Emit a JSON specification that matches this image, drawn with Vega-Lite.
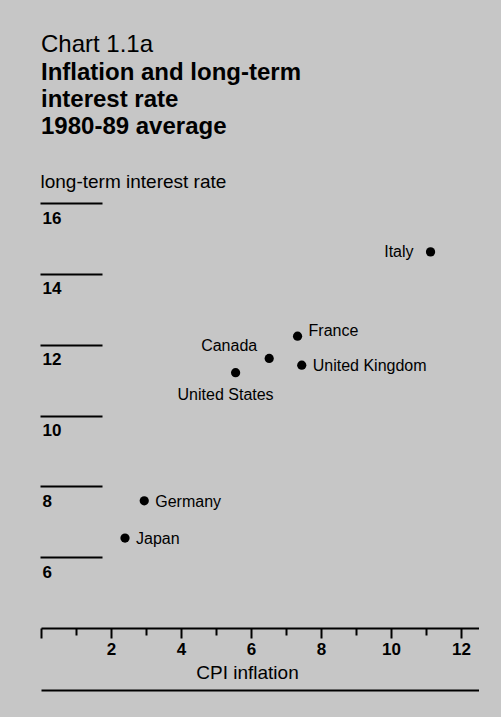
{
  "$schema": "https://vega.github.io/schema/vega-lite/v6.json",
  "width": 437.5,
  "height": 425,
  "autosize": {"type": "none"},
  "padding": {"left": 41, "top": 203, "right": 22.5, "bottom": 89},
  "background": "#c6c6c6",
  "title": {
    "text": "Chart 1.1a",
    "subtitle": ["Inflation and long-term", "interest rate", "1980-89 average"],
    "anchor": "start",
    "frame": "group",
    "font": "Liberation Sans",
    "fontSize": 24,
    "fontWeight": "normal",
    "color": "black",
    "subtitleFont": "Liberation Sans",
    "subtitleFontSize": 24,
    "subtitleFontWeight": "bold",
    "subtitleColor": "black",
    "subtitleLineHeight": 27,
    "subtitlePadding": 4,
    "offset": 33
  },
  "data": {
    "values": [
      {"country": "Italy", "cpi": 11.13, "rate": 14.62},
      {"country": "France", "cpi": 7.33, "rate": 12.24},
      {"country": "Canada", "cpi": 6.52, "rate": 11.61},
      {"country": "United Kingdom", "cpi": 7.45, "rate": 11.42},
      {"country": "United States", "cpi": 5.56, "rate": 11.21},
      {"country": "Germany", "cpi": 2.95, "rate": 7.59},
      {"country": "Japan", "cpi": 2.40, "rate": 6.54}
    ]
  },
  "resolve": {"axis": {"x": "independent", "y": "independent"}},
  "layer": [
    {
      "mark": {"type": "point", "filled": true, "size": 85, "color": "black", "opacity": 1},
      "encoding": {
        "x": {
          "field": "cpi", "type": "quantitative",
          "scale": {"domain": [0, 12.5], "nice": false, "zero": false},
          "axis": {
            "orient": "bottom",
            "values": [0, 1, 2, 3, 4, 5, 6, 7, 8, 9, 10, 11, 12],
            "domain": true, "domainColor": "black", "domainWidth": 2,
            "ticks": true, "tickColor": "black", "tickWidth": 2,
            "tickSize": {"condition": {"test": "datum.value % 2 == 1", "value": 7}, "value": 10},
            "grid": false,
            "labelExpr": "datum.value % 2 == 0 && datum.value > 0 ? datum.label : ''",
            "labelFont": "Liberation Sans", "labelFontSize": 17, "labelFontWeight": "bold",
            "labelColor": "black", "labelPadding": 3, "labelFlush": false, "labelOverlap": false,
            "title": "CPI inflation",
            "titleFont": "Liberation Sans", "titleFontSize": 19, "titleFontWeight": "normal",
            "titleColor": "black", "titleX": 206, "titleY": 50, "titleAlign": "center", "titleBaseline": "alphabetic"
          }
        },
        "y": {
          "field": "rate", "type": "quantitative",
          "scale": {"domain": [4, 16], "nice": false, "zero": false},
          "axis": {
            "orient": "left",
            "values": [6, 8, 10, 12, 14, 16],
            "offset": -61,
            "domain": false,
            "ticks": true, "tickColor": "black", "tickWidth": 2, "tickSize": 62,
            "grid": false,
            "labelFont": "Liberation Sans", "labelFontSize": 17, "labelFontWeight": "bold",
            "labelColor": "black", "labelAlign": "left", "labelBaseline": "top",
            "labelPadding": -2, "labelOffset": 7, "labelFlush": false, "labelOverlap": false, "labelBound": false,
            "title": "long-term interest rate",
            "titleFont": "Liberation Sans", "titleFontSize": 19, "titleFontWeight": "normal",
            "titleColor": "black", "titleAngle": 0, "titleAlign": "left", "titleBaseline": "alphabetic",
            "titleX": -62, "titleY": -16
          }
        }
      }
    },
    {
      "transform": [{"filter": "datum.country == 'Italy'"}],
      "mark": {"type": "text", "align": "right", "baseline": "middle", "dx": -17, "dy": 0, "font": "Liberation Sans", "fontSize": 16, "color": "black"},
      "encoding": {
        "x": {
          "field": "cpi", "type": "quantitative",
          "scale": {"domain": [0, 12.5], "nice": false, "zero": false},
          "axis": {
            "orient": "bottom", "offset": 62,
            "domain": true, "domainColor": "black", "domainWidth": 2,
            "ticks": false, "labels": false, "grid": false, "title": null
          }
        },
        "y": {"field": "rate", "type": "quantitative", "axis": null},
        "text": {"field": "country"}
      }
    },
    {
      "transform": [{"filter": "datum.country == 'France'"}],
      "mark": {"type": "text", "align": "left", "baseline": "middle", "dx": 11, "dy": -5, "font": "Liberation Sans", "fontSize": 16, "color": "black"},
      "encoding": {
        "x": {"field": "cpi", "type": "quantitative", "axis": null},
        "y": {"field": "rate", "type": "quantitative", "axis": null},
        "text": {"field": "country"}
      }
    },
    {
      "transform": [{"filter": "indexof(['United Kingdom','Germany','Japan'], datum.country) >= 0"}],
      "mark": {"type": "text", "align": "left", "baseline": "middle", "dx": 11, "dy": 1, "font": "Liberation Sans", "fontSize": 16, "color": "black"},
      "encoding": {
        "x": {"field": "cpi", "type": "quantitative", "axis": null},
        "y": {"field": "rate", "type": "quantitative", "axis": null},
        "text": {"field": "country"}
      }
    },
    {
      "transform": [{"filter": "datum.country == 'Canada'"}],
      "mark": {"type": "text", "align": "right", "baseline": "middle", "dx": -12, "dy": -12, "font": "Liberation Sans", "fontSize": 16, "color": "black"},
      "encoding": {
        "x": {"field": "cpi", "type": "quantitative", "axis": null},
        "y": {"field": "rate", "type": "quantitative", "axis": null},
        "text": {"field": "country"}
      }
    },
    {
      "transform": [{"filter": "datum.country == 'United States'"}],
      "mark": {"type": "text", "align": "center", "baseline": "middle", "dx": -10, "dy": 22, "font": "Liberation Sans", "fontSize": 16, "color": "black"},
      "encoding": {
        "x": {"field": "cpi", "type": "quantitative", "axis": null},
        "y": {"field": "rate", "type": "quantitative", "axis": null},
        "text": {"field": "country"}
      }
    }
  ],
  "config": {
    "view": {"stroke": null},
    "font": "Liberation Sans"
  }
}
